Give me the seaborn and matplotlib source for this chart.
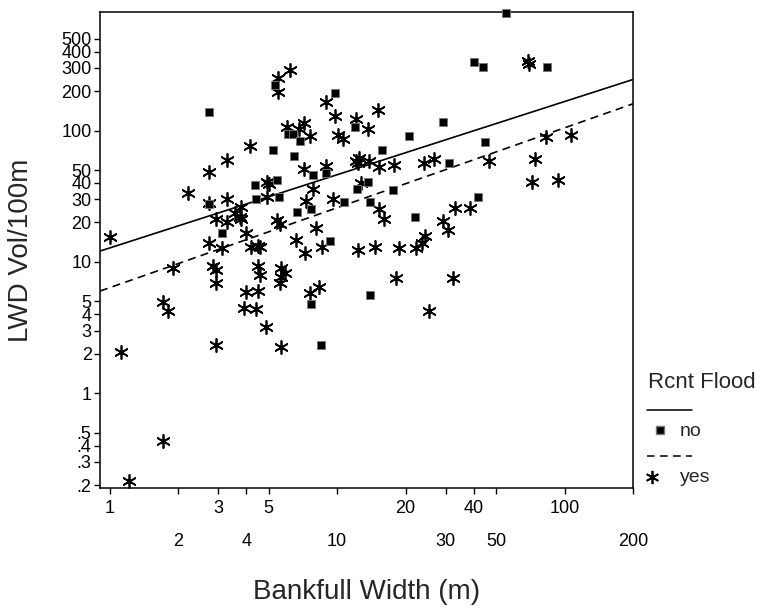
import matplotlib
matplotlib.use("Agg")
import matplotlib.pyplot as plt
from matplotlib.lines import Line2D
from matplotlib.ticker import FixedLocator, NullLocator
import seaborn as sns
import pandas as pd

# ---------------- data ----------------
no_width = [2.74, 5.36, 9.75, 12.0, 5.24, 6.47, 6.08, 6.40, 6.90, 7.81,
            8.97, 4.35, 5.42, 4.42, 5.54, 2.74, 6.68, 7.69, 10.78, 12.18,
            13.65, 14.0, 3.13, 9.27, 15.78, 17.57, 21.98, 7.65, 8.47, 14.0,
            55.1, 40.1, 43.7, 83.8, 29.2, 20.8, 44.5, 31.2, 41.5]
no_vol = [138, 223, 193, 106, 71.6, 63.6, 94.4, 94.4, 83.5, 46.0,
          47.4, 38.6, 42.2, 30.2, 31.3, 27.4, 23.9, 25.4, 28.4, 36.0,
          40.7, 28.5, 16.7, 14.5, 71.2, 35.3, 22.0, 4.76, 2.32, 5.65,
          780, 332, 303, 303, 117, 91.2, 82.1, 56.3, 31.0]

yes_width = [1.0, 2.22, 2.74, 3.30, 4.13, 5.51, 6.22, 5.51, 8.95, 9.75,
             12.14, 13.75, 15.21, 6.02, 6.78, 7.15, 7.63, 10.05, 10.60, 8.95,
             7.17, 12.06, 12.55, 12.36, 13.89, 15.25, 17.78, 24.2, 4.91, 5.03,
             4.91, 3.30, 2.74, 3.80, 7.81, 7.28, 9.59, 12.77, 15.36, 16.15,
             2.93, 3.30, 3.55, 3.74, 3.80, 5.45, 5.62, 3.99, 8.05, 6.59,
             7.22, 8.61, 2.74, 3.12, 4.20, 4.50, 4.57, 12.34, 14.68, 18.76,
             22.32, 23.55, 24.4, 1.90, 2.84, 2.93, 2.93, 4.50, 4.57, 5.69,
             5.89, 5.69, 5.60, 3.99, 4.50, 3.90, 4.42, 4.89, 7.63, 8.32,
             1.72, 1.81, 1.12, 2.93, 5.69, 1.72, 1.22, 18.2, 32.5, 25.4,
             69.4, 70.1, 26.7, 46.4, 83.2, 106.7, 73.8, 71.8, 93.3, 33.1,
             38.4, 29.1, 30.9]
yes_vol = [15.6, 33.3, 48.7, 59.8, 76.4, 252, 290, 196, 166, 130,
           123, 103, 143, 106, 103, 114, 91.5, 92.7, 86.1, 53.8,
           50.6, 58.8, 61.4, 56.3, 58.2, 52.9, 54.8, 56.7, 40.9, 39.3,
           31.3, 30.3, 27.9, 26.4, 36.1, 29.3, 30.2, 39.7, 25.2, 21.1,
           21.2, 20.2, 23.5, 22.1, 21.1, 20.9, 19.4, 16.7, 18.2, 14.6,
           11.7, 13.0, 14.0, 12.7, 12.9, 13.2, 13.0, 12.4, 13.1, 12.7,
           12.8, 14.0, 15.8, 8.96, 9.25, 8.61, 6.95, 9.25, 7.96, 8.96,
           8.20, 7.73, 6.88, 5.88, 6.01, 4.49, 4.36, 3.22, 5.84, 6.42,
           4.93, 4.24, 2.08, 2.32, 2.27, 0.436, 0.216, 7.54, 7.54, 4.20,
           338, 324, 60.8, 58.7, 89.8, 91.8, 60.4, 40.5, 41.8, 25.6,
           25.6, 20.6, 17.6]

# fitted lines (log-log regressions) evaluated at the axis ends
fit_x = [0.908, 200]
fit_no = [12.1, 245]
fit_yes = [6.0, 160]

x_top_ticks = [1, 3, 5, 20, 40, 100]
x_top_labels = ["1", "3", "5", "20", "40", "100"]
x_bot_ticks = [2, 4, 10, 30, 50, 200]
x_bot_labels = ["2", "4", "10", "30", "50", "200"]
y_ticks = [0.2, 0.3, 0.4, 0.5, 1, 2, 3, 4, 5, 10, 20, 30, 40, 50,
           100, 200, 300, 400, 500]
y_labels = [".2", ".3", ".4", ".5", "1", "2", "3", "4", "5", "10", "20",
            "30", "40", "50", "100", "200", "300", "400", "500"]

# ---------------- styling ----------------
sns.set_style("ticks")
plt.rcParams["font.family"] = ["Liberation Sans", "DejaVu Sans"]
plt.rcParams["axes.linewidth"] = 1.1

W, H = 761, 616
fig = plt.figure(figsize=(W / 100, H / 100), dpi=100)
L, R, T, B = 100, 633, 12, 488
ax = fig.add_axes([L / W, 1 - B / H, (R - L) / W, (B - T) / H])

df_no = pd.DataFrame({"width": no_width, "vol": no_vol})
df_yes = pd.DataFrame({"width": yes_width, "vol": yes_vol})
df_fit = pd.DataFrame({"width": fit_x, "no": fit_no, "yes": fit_yes})

sns.lineplot(data=df_fit, x="width", y="no", ax=ax, color="black",
             linewidth=1.2, zorder=3)
sns.lineplot(data=df_fit, x="width", y="yes", ax=ax, color="black",
             linewidth=1.2, linestyle=(0, (4.8, 3.2)), zorder=3)

sns.scatterplot(data=df_yes, x="width", y="vol", ax=ax, marker=(6, 2, 0),
                color="black", s=90, linewidth=1.25, zorder=4)
sns.scatterplot(data=df_no, x="width", y="vol", ax=ax, marker="s",
                facecolor="black", edgecolor="#777777", s=28, linewidth=0.6,
                zorder=5, clip_on=False)

ax.set_xscale("log")
ax.set_yscale("log")
ax.set_xlim(0.908, 200)
ax.set_ylim(0.19, 800)

ax.xaxis.set_major_locator(FixedLocator(x_top_ticks))
ax.xaxis.set_minor_locator(FixedLocator(x_bot_ticks))
ax.set_xticks(x_top_ticks, labels=x_top_labels)
ax.set_xticks(x_bot_ticks, labels=x_bot_labels, minor=True)
ax.set_yticks(y_ticks, labels=y_labels)
ax.yaxis.set_minor_locator(NullLocator())

ax.tick_params(axis="x", which="major", length=4.5, width=1.0, pad=4,
               labelsize=13, direction="out", colors="black")
ax.tick_params(axis="x", which="minor", length=4.5, width=1.0, pad=28,
               labelsize=13, direction="out", colors="black")
ax.tick_params(axis="y", which="major", length=4, width=1.0, pad=2,
               labelsize=13, direction="out", colors="black")

for s in ax.spines.values():
    s.set_visible(True)
    s.set_color("black")
    s.set_linewidth(1.1)

ax.set_xlabel("")
ax.set_ylabel("")
fig.text(21 / W, 1 - 250 / H, "LWD Vol/100m", rotation=90, ha="center",
         va="center", fontsize=20)
fig.text(367 / W, 1 - 592 / H, "Bankfull Width (m)", ha="center",
         va="center", fontsize=20)

# legend (drawn at the right, outside the axes)
fig.text(648 / W, 1 - 382 / H, "Rcnt Flood", ha="left", va="center",
         fontsize=16)
fig.add_artist(Line2D([647 / W, 692 / W], [1 - 410 / H, 1 - 410 / H],
                      color="black", linewidth=1.1, transform=fig.transFigure))
fig.add_artist(Line2D([660 / W], [1 - 430 / H], marker="s", markersize=5.5,
                      markerfacecolor="black", markeredgecolor="#777777",
                      linestyle="none", transform=fig.transFigure))
fig.text(680 / W, 1 - 432 / H, "no", ha="left", va="center", fontsize=14)
fig.add_artist(Line2D([647 / W, 692 / W], [1 - 456 / H, 1 - 456 / H],
                      color="black", linewidth=1.1, linestyle=(0, (5, 3.5)),
                      transform=fig.transFigure))
fig.add_artist(Line2D([652 / W], [1 - 477 / H], marker=(6, 2, 0),
                      markersize=9.5, markeredgewidth=1.25, color="black",
                      linestyle="none", transform=fig.transFigure))
fig.text(680 / W, 1 - 478 / H, "yes", ha="left", va="center", fontsize=14)

fig.savefig("out.png", dpi=100)
